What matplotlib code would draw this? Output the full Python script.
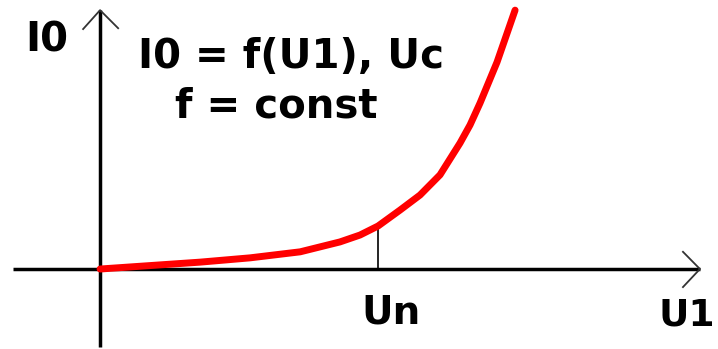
import matplotlib.pyplot as plt

# magnetising current vs. primary voltage (relative units, Un = 1)
u1 = [0, 0.18, 0.36, 0.54, 0.72, 0.863, 0.935, 1.0, 1.079, 1.151, 1.223, 1.295, 1.331, 1.367, 1.428, 1.493]
i0 = [0, 0.08, 0.16, 0.26, 0.40, 0.63, 0.79, 1.0, 1.37, 1.72, 2.19, 2.93, 3.35, 3.86, 4.81, 6.02]
u_nom = 1.0
i0_nom = 1.0

fig = plt.figure(figsize=(7.18, 3.49), dpi=100)
ax = fig.add_axes([0, 0, 1, 1])
ax.set_xlim(-0.360, 2.223)
ax.set_ylim(-1.86, 6.256)
ax.axis('off')

# axes with open arrow heads
ax.plot([-0.313, 2.158], [0, 0], color='black', lw=2.5, solid_capstyle='butt')
ax.plot([0, 0], [-1.81, 6.02], color='black', lw=2.5, solid_capstyle='butt')
ax.plot([2.097, 2.158, 2.097], [0.40, 0, -0.42], color='#333333', lw=1.3)
ax.plot([-0.061, 0, 0.065], [5.58, 6.02, 5.60], color='#333333', lw=1.3)

# curve and nominal-voltage marker
ax.plot(u1, i0, color='#ff0000', lw=5, solid_capstyle='round',
        solid_joinstyle='round', zorder=3)
ax.plot([u_nom, u_nom], [0, i0_nom], color='black', lw=1.2)

font = dict(fontweight='bold', ha='center', va='baseline', family='DejaVu Sans')
ax.text(-0.191, 5.047, 'I0', fontsize=29, **font)
ax.text(0.687, 4.674, 'I0 = f(U1), Uc', fontsize=29, **font)
ax.text(0.633, 3.535, 'f = const', fontsize=29, **font)
ax.text(1.047, -1.256, 'Un', fontsize=28, **font)
ax.text(2.112, -1.302, 'U1', fontsize=27, **font)

fig.savefig('out.png', dpi=100)
